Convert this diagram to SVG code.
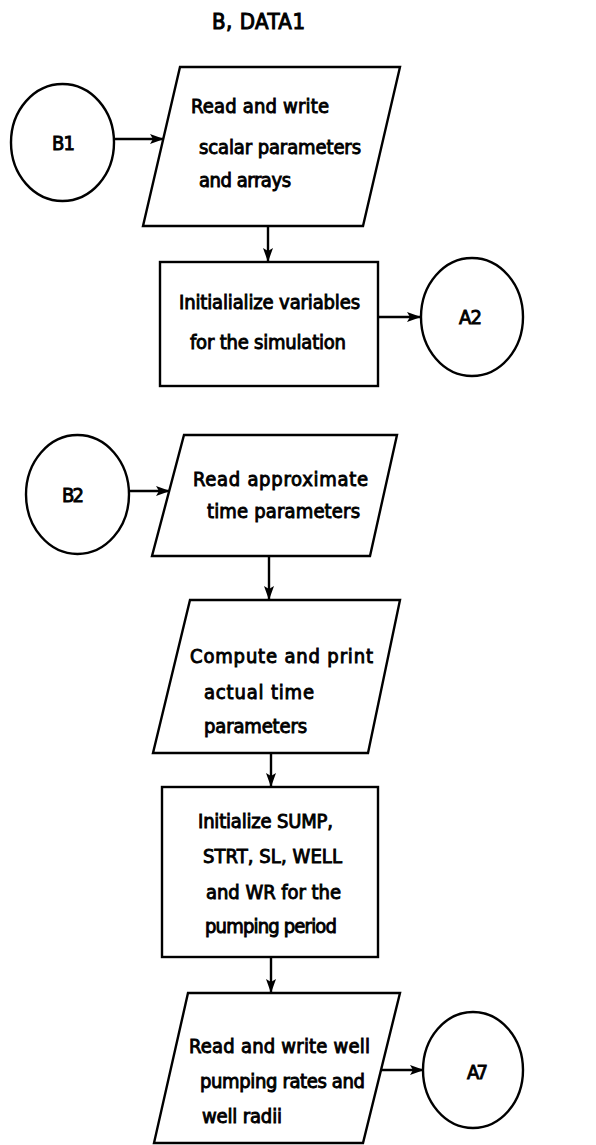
<svg xmlns="http://www.w3.org/2000/svg" width="596" height="1145" viewBox="0 0 596 1145">
<style>
.s{fill:#fff;stroke:#000;stroke-width:2.4;}
.c{fill:none;stroke:#000;stroke-width:2.4;}
.t{font-family:"DejaVu Sans Condensed","DejaVu Sans",sans-serif;font-weight:normal;font-size:20px;fill:#000;stroke:#000;stroke-width:0.9;}
.ti{font-family:"DejaVu Sans Condensed","DejaVu Sans",sans-serif;font-weight:normal;font-size:22px;fill:#000;stroke:#000;stroke-width:1;}
</style>
<defs>
<marker id="ah" markerUnits="userSpaceOnUse" markerWidth="15" markerHeight="11" refX="14" refY="5" orient="auto">
<path d="M0,0 L14,5 L0,10 L3,5 z" fill="#000"/>
</marker>
</defs>
<rect width="596" height="1145" fill="#fff"/>
<text class="ti" x="212" y="29" textLength="93" lengthAdjust="spacing">B, DATA1</text>

<g id="connectors">
<line class="c" x1="114" y1="139" x2="164" y2="139" marker-end="url(#ah)"/>
<line class="c" x1="268" y1="226" x2="268" y2="262" marker-end="url(#ah)"/>
<line class="c" x1="378" y1="317" x2="421" y2="317" marker-end="url(#ah)"/>
<line class="c" x1="129" y1="491" x2="170" y2="491" marker-end="url(#ah)"/>
<line class="c" x1="269" y1="556" x2="269" y2="600" marker-end="url(#ah)"/>
<line class="c" x1="271" y1="753" x2="271" y2="787" marker-end="url(#ah)"/>
<line class="c" x1="271" y1="957" x2="271" y2="993" marker-end="url(#ah)"/>
<line class="c" x1="381" y1="1070" x2="424" y2="1070" marker-end="url(#ah)"/>
</g>

<g id="B1">
<ellipse class="s" cx="62.5" cy="142.5" rx="51.5" ry="58.5"/>
<text class="t" x="52" y="150" textLength="23" lengthAdjust="spacing">B1</text>
</g>

<g id="read-scalar">
<polygon class="s" points="180,67 400,67 363,226 143,226"/>
<text class="t" x="191" y="113" textLength="138" lengthAdjust="spacing">Read and write</text>
<text class="t" x="199" y="154" textLength="162" lengthAdjust="spacing">scalar parameters</text>
<text class="t" x="199" y="187" textLength="92" lengthAdjust="spacing">and arrays</text>
</g>

<g id="init-vars">
<rect class="s" x="160" y="262" width="218" height="124"/>
<text class="t" x="179" y="309" textLength="181" lengthAdjust="spacing">Initialialize variables</text>
<text class="t" x="190" y="349" textLength="156" lengthAdjust="spacing">for the simulation</text>
</g>

<g id="A2">
<ellipse class="s" cx="472" cy="317" rx="51" ry="59"/>
<text class="t" x="459" y="324" textLength="23" lengthAdjust="spacing">A2</text>
</g>

<g id="B2">
<ellipse class="s" cx="77.5" cy="494.5" rx="51.5" ry="59.5"/>
<text class="t" x="62" y="502" textLength="22" lengthAdjust="spacing">B2</text>
</g>

<g id="read-approx">
<polygon class="s" points="184,435 397,435 370,556 152,556"/>
<text class="t" x="193" y="486" textLength="175" lengthAdjust="spacing">Read approximate</text>
<text class="t" x="207" y="518" textLength="153" lengthAdjust="spacing">time parameters</text>
</g>

<g id="compute-print">
<polygon class="s" points="190,600 400,600 368,753 153,753"/>
<text class="t" x="190" y="663" textLength="183" lengthAdjust="spacing">Compute and print</text>
<text class="t" x="204" y="699" textLength="110" lengthAdjust="spacing">actual time</text>
<text class="t" x="204" y="733" textLength="103" lengthAdjust="spacing">parameters</text>
</g>

<g id="init-sump">
<rect class="s" x="162" y="787" width="216" height="170"/>
<text class="t" x="198" y="828" textLength="135" lengthAdjust="spacing">Initialize SUMP,</text>
<text class="t" x="203" y="863" textLength="139" lengthAdjust="spacing">STRT, SL, WELL</text>
<text class="t" x="206" y="899" textLength="135" lengthAdjust="spacing">and WR for the</text>
<text class="t" x="205" y="933" textLength="132" lengthAdjust="spacing">pumping period</text>
</g>

<g id="read-well">
<polygon class="s" points="188,993 400,993 363,1143 154,1143"/>
<text class="t" x="189" y="1053" textLength="181" lengthAdjust="spacing">Read and write well</text>
<text class="t" x="200" y="1088" textLength="165" lengthAdjust="spacing">pumping rates and</text>
<text class="t" x="202" y="1123" textLength="80" lengthAdjust="spacing">well radii</text>
</g>

<g id="A7">
<ellipse class="s" cx="473" cy="1070" rx="50" ry="58"/>
<text class="t" x="467" y="1079" textLength="21" lengthAdjust="spacing">A7</text>
</g>
</svg>
